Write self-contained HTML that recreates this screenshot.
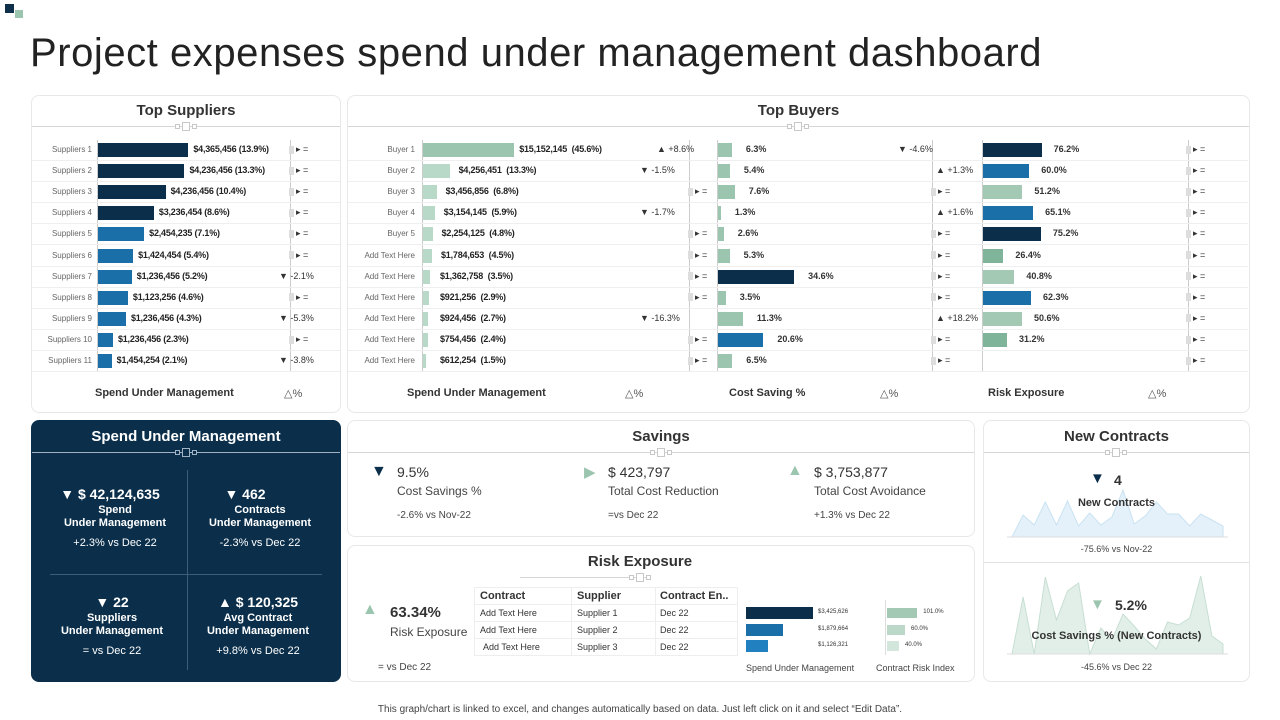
<!DOCTYPE html>
<html><head><meta charset="utf-8">
<style>
*{margin:0;padding:0;box-sizing:border-box}
body{width:1280px;height:720px;background:#fff;font-family:"Liberation Sans",sans-serif;position:relative;overflow:hidden;color:#333}
.a{position:absolute;white-space:nowrap}
.panel{position:absolute;border:1px solid #e8e8e8;border-radius:8px;background:#fff}
.pt{position:absolute;font-weight:bold;font-size:15px;color:#333;text-align:center}
.hl{position:absolute;height:1px;background:#d6d6d6}
.sq{display:inline-block;width:5px;height:8px;background:#ddd;vertical-align:middle;margin-right:2px}
.w{color:#fff;text-align:center}
</style></head><body>
<div class="a" style="left:5px;top:4px;width:9px;height:9px;background:#0d2f4a"></div>
<div class="a" style="left:15px;top:10px;width:8px;height:8px;background:#9cc5b0"></div>
<div class="a" style="left:30px;top:31px;font-size:40px;color:#222;letter-spacing:0.55px">Project expenses spend under management dashboard</div>

<!-- Top suppliers -->
<div class="panel" style="left:31px;top:95px;width:310px;height:318px"></div>
<div class="pt" style="left:31px;top:102px;width:310px">Top Suppliers</div>
<div class="hl" style="left:32px;top:126px;width:308px"></div>
<div style="position:absolute;width:1px;background:#ccc;left:97px;top:140px;height:232px"></div>
<div style="position:absolute;width:1px;background:#ccc;left:290px;top:140px;height:232px"></div>
<div class="a" style="left:95px;top:387px;font-size:11px;font-weight:bold;color:#333">Spend Under Management</div>
<div class="a" style="left:284px;top:387px;font-size:11px;color:#555">△%</div>
<div id="sup"></div>

<!-- Top buyers -->
<div class="panel" style="left:347px;top:95px;width:903px;height:318px"></div>
<div class="pt" style="left:347px;top:102px;width:903px">Top Buyers</div>
<div class="hl" style="left:348px;top:126px;width:901px"></div>
<div style="position:absolute;width:1px;background:#ccc;left:422px;top:140px;height:232px"></div>
<div style="position:absolute;width:1px;background:#ccc;left:689px;top:140px;height:232px"></div>
<div style="position:absolute;width:1px;background:#ccc;left:717px;top:140px;height:232px"></div>
<div style="position:absolute;width:1px;background:#ccc;left:932px;top:140px;height:232px"></div>
<div style="position:absolute;width:1px;background:#ccc;left:982px;top:140px;height:232px"></div>
<div style="position:absolute;width:1px;background:#ccc;left:1188px;top:140px;height:232px"></div>
<div class="a" style="left:407px;top:387px;font-size:11px;font-weight:bold">Spend Under Management</div>
<div class="a" style="left:625px;top:387px;font-size:11px;color:#555">△%</div>
<div class="a" style="left:729px;top:387px;font-size:11px;font-weight:bold">Cost Saving %</div>
<div class="a" style="left:880px;top:387px;font-size:11px;color:#555">△%</div>
<div class="a" style="left:988px;top:387px;font-size:11px;font-weight:bold">Risk Exposure</div>
<div class="a" style="left:1148px;top:387px;font-size:11px;color:#555">△%</div>
<div id="buy"></div>

<!-- Spend Under Management dark -->
<div class="a" style="left:31px;top:420px;width:310px;height:262px;background:#0b2f4b;border-radius:8px"></div>
<div class="a w" style="left:31px;top:428px;width:310px;font-size:15px;font-weight:bold">Spend Under Management</div>
<div class="a" style="left:32px;top:452px;width:308px;height:1px;background:#9fb3c4"></div>
<div class="a" style="left:187px;top:470px;width:1px;height:200px;background:#3d5d78"></div>
<div class="a" style="left:50px;top:574px;width:272px;height:1px;background:#3d5d78"></div>
<div class="a w" style="left:40px;top:486px;width:140px;font-size:14px;font-weight:bold">▼ $ 42,124,635</div>
<div class="a w" style="left:40px;top:504px;width:150px;font-size:11px;font-weight:bold;line-height:13px">Spend<br>Under Management</div>
<div class="a w" style="left:40px;top:537px;width:150px;font-size:11px">+2.3% vs Dec 22</div>
<div class="a w" style="left:185px;top:486px;width:150px;font-size:14px;font-weight:bold;padding-right:30px">▼ 462</div>
<div class="a w" style="left:185px;top:504px;width:150px;font-size:11px;font-weight:bold;line-height:13px">Contracts<br>Under Management</div>
<div class="a w" style="left:185px;top:537px;width:150px;font-size:11px">-2.3% vs Dec 22</div>
<div class="a w" style="left:37px;top:594px;width:150px;font-size:14px;font-weight:bold">▼ 22</div>
<div class="a w" style="left:37px;top:612px;width:150px;font-size:11px;font-weight:bold;line-height:13px">Suppliers<br>Under Management</div>
<div class="a w" style="left:37px;top:645px;width:150px;font-size:11px">= vs Dec 22</div>
<div class="a w" style="left:183px;top:594px;width:150px;font-size:14px;font-weight:bold">▲ $ 120,325</div>
<div class="a w" style="left:183px;top:612px;width:150px;font-size:11px;font-weight:bold;line-height:13px">Avg Contract<br>Under Management</div>
<div class="a w" style="left:183px;top:645px;width:150px;font-size:11px">+9.8% vs Dec 22</div>

<!-- Savings -->
<div class="panel" style="left:347px;top:420px;width:628px;height:117px"></div>
<div class="pt" style="left:347px;top:428px;width:628px">Savings</div>
<div class="hl" style="left:348px;top:452px;width:626px"></div>
<div class="a" style="left:371px;top:463px;font-size:16px;color:#0b2f4b">▼</div>
<div class="a" style="left:397px;top:464px;font-size:14px;color:#333">9.5%</div>
<div class="a" style="left:397px;top:484px;font-size:12px;color:#444">Cost Savings %</div>
<div class="a" style="left:397px;top:510px;font-size:10px;color:#444">-2.6% vs Nov-22</div>
<div class="a" style="left:584px;top:463px;font-size:15px;color:#9cc5b0">▶</div>
<div class="a" style="left:608px;top:464px;font-size:14px">$ 423,797</div>
<div class="a" style="left:608px;top:484px;font-size:12px;color:#444">Total Cost Reduction</div>
<div class="a" style="left:608px;top:510px;font-size:10px;color:#444">=vs Dec 22</div>
<div class="a" style="left:787px;top:462px;font-size:16px;color:#9cc5b0">▲</div>
<div class="a" style="left:814px;top:464px;font-size:14px">$ 3,753,877</div>
<div class="a" style="left:814px;top:484px;font-size:12px;color:#444">Total Cost Avoidance</div>
<div class="a" style="left:814px;top:510px;font-size:10px;color:#444">+1.3% vs Dec 22</div>

<!-- Risk exposure -->
<div class="panel" style="left:347px;top:545px;width:628px;height:137px"></div>
<div class="pt" style="left:347px;top:553px;width:586px">Risk Exposure</div>
<div class="hl" style="left:520px;top:577px;width:130px"></div>
<div class="a" style="left:362px;top:601px;font-size:16px;color:#9cc5b0">▲</div>
<div class="a" style="left:390px;top:604px;font-size:15px;font-weight:bold;color:#333">63.34%</div>
<div class="a" style="left:390px;top:625px;font-size:12px;color:#444">Risk Exposure</div>
<div class="a" style="left:378px;top:662px;font-size:10px;color:#444">= vs Dec 22</div>
<div class="a" style="left:474px;top:587px;width:264px;height:69px;border:1px solid #eee">
 <div class="a" style="left:5px;top:2px;font-size:11px;font-weight:bold">Contract</div>
 <div class="a" style="left:102px;top:2px;font-size:11px;font-weight:bold">Supplier</div>
 <div class="a" style="left:185px;top:2px;font-size:11px;font-weight:bold">Contract En..</div>
 <div class="a" style="left:96px;top:0;width:1px;height:68px;background:#eee"></div>
 <div class="a" style="left:180px;top:0;width:1px;height:68px;background:#eee"></div>
 <div class="a" style="left:0;top:16px;width:262px;height:1px;background:#eee"></div>
 <div class="a" style="left:0;top:33px;width:262px;height:1px;background:#eee"></div>
 <div class="a" style="left:0;top:50px;width:262px;height:1px;background:#eee"></div>
 <div class="a" style="left:5px;top:20px;font-size:9px">Add Text Here</div><div class="a" style="left:102px;top:20px;font-size:9px">Supplier 1</div><div class="a" style="left:185px;top:20px;font-size:9px">Dec 22</div>
 <div class="a" style="left:5px;top:37px;font-size:9px">Add Text Here</div><div class="a" style="left:102px;top:37px;font-size:9px">Supplier 2</div><div class="a" style="left:185px;top:37px;font-size:9px">Dec 22</div>
 <div class="a" style="left:8px;top:54px;font-size:9px">Add Text Here</div><div class="a" style="left:102px;top:54px;font-size:9px">Supplier 3</div><div class="a" style="left:185px;top:54px;font-size:9px">Dec 22</div>
</div>
<div style="position:absolute;width:1px;left:885px;top:600px;height:55px;background:#ddd"></div>
<div id="risk"></div>
<div class="a" style="left:746px;top:663px;font-size:9px;color:#444">Spend Under Management</div>
<div class="a" style="left:876px;top:663px;font-size:9px;color:#444">Contract Risk Index</div>

<!-- New contracts -->
<div class="panel" style="left:983px;top:420px;width:267px;height:262px"></div>
<div class="pt" style="left:983px;top:428px;width:267px">New Contracts</div>
<div class="hl" style="left:984px;top:452px;width:265px"></div>
<div class="hl" style="left:984px;top:562px;width:265px;background:#e3e3e3"></div>
<svg class="a" style="left:0;top:0" width="1280" height="720" id="spark"></svg>
<div class="a" style="left:1090px;top:470px;font-size:15px;color:#0b2f4b">▼</div>
<div class="a" style="left:1114px;top:472px;font-size:14px;font-weight:bold">4</div>
<div class="a" style="left:983px;top:497px;width:267px;text-align:center;font-size:11px;font-weight:bold">New Contracts</div>
<div class="a" style="left:983px;top:544px;width:267px;text-align:center;font-size:9px;color:#444">-75.6% vs Nov-22</div>
<div class="a" style="left:1090px;top:596px;font-size:15px;color:#9cc5b0">▼</div>
<div class="a" style="left:1115px;top:597px;font-size:14px;font-weight:bold">5.2%</div>
<div class="a" style="left:983px;top:630px;width:267px;text-align:center;font-size:11px;font-weight:bold">Cost Savings % (New Contracts)</div>
<div class="a" style="left:983px;top:662px;width:267px;text-align:center;font-size:9px;color:#444">-45.6% vs Dec 22</div>

<div class="a" style="left:0;top:704px;width:1280px;text-align:center;font-size:10px;color:#444">This graph/chart is linked to excel, and changes automatically based on data. Just left click on it and select “Edit Data”.</div>

<script>
const supNames=["Suppliers 1","Suppliers 2","Suppliers 3","Suppliers 4","Suppliers 5","Suppliers 6","Suppliers 7","Suppliers 8","Suppliers 9","Suppliers 10","Suppliers 11"];
const supValues=["$4,365,456","$4,236,456","$4,236,456","$3,236,454","$2,454,235","$1,424,454","$1,236,456","$1,123,256","$1,236,456","$1,236,456","$1,454,254"];
const supPct=[13.9,13.3,10.4,8.6,7.1,5.4,5.2,4.6,4.3,2.3,2.1];
const supDelta=[0,0,0,0,0,0,-2.1,0,-5.3,0,-3.8];
const buyNames=["Buyer 1","Buyer 2","Buyer 3","Buyer 4","Buyer 5","Add Text Here","Add Text Here","Add Text Here","Add Text Here","Add Text Here","Add Text Here"];
const buyValues=["$15,152,145","$4,256,451","$3,456,856","$3,154,145","$2,254,125","$1,784,653","$1,362,758","$921,256","$924,456","$754,456","$612,254"];
const buyPct=[45.6,13.3,6.8,5.9,4.8,4.5,3.5,2.9,2.7,2.4,1.5];
const buyDelta=[8.6,-1.5,0,-1.7,0,0,0,0,-16.3,0,0];
const costSaving=[6.3,5.4,7.6,1.3,2.6,5.3,34.6,3.5,11.3,20.6,6.5];
const costDelta=[-4.6,1.3,0,1.6,0,0,0,0,18.2,0,0];
const riskExp=[76.2,60.0,51.2,65.1,75.2,26.4,40.8,62.3,50.6,31.2,null];
const riskDelta=[0,0,0,0,0,0,0,0,0,-3.0,0];
const riskSpend=[3425626,1879664,1126321];
const riskSpendLbl=["$3,425,626","$1,879,664","$1,126,321"];
const riskIndex=[101,60,40];
const ncSeries=[0,22,12,35,12,36,11,24,12,20,47,13,21,35,23,23,11,23,17,11];
const csSeries=[0,57,0,77,34,63,71,0,26,14,40,28,15,5,32,29,36,78,18,10];

const rowY=i=>150+i*21.1;
function el(parent,css,html){const d=document.createElement('div');d.className='a';d.style.cssText=css;if(html!==undefined)d.innerHTML=html;parent.appendChild(d);return d;}
[[186,126,'#c8c8c8','#fff'],[798,126,'#c8c8c8','#fff'],[186,452,'#9fb3c4','#0b2f4b'],[661,452,'#c8c8c8','#fff'],[640,577,'#c8c8c8','#fff'],[1116,452,'#c8c8c8','#fff']].forEach(k=>{
  const g=el(document.body,`left:${k[0]-11}px;top:${k[1]-4}px;width:22px;height:9px`);
  
  
  el(g,`left:0;top:2px;width:5px;height:5px;border:1px solid ${k[2]};background:${k[3]}`);
  el(g,`left:7px;top:0;width:8px;height:9px;border:1px solid ${k[2]};background:${k[3]}`);
  el(g,`left:17px;top:2px;width:5px;height:5px;border:1px solid ${k[2]};background:${k[3]}`);
});
const sup=document.getElementById('sup');
const supX=p=>p*6.5;
supNames.forEach((n,i)=>{
  const y=rowY(i);
  el(sup,`left:32px;top:${y+10}px;width:308px;height:1px;background:#efefef`);
  const l=el(sup,`left:32px;top:${y-5}px;width:60px;font-size:8px;color:#666;text-align:right`,n);
  
  const b=el(sup,`left:98px;top:${y-7}px;width:${supX(supPct[i])}px;height:14px;background:${i<4?'#0b2f4b':'#1a6fa8'}`);
  
  
  const t=el(sup,`left:${103+supX(supPct[i])}px;top:${y-6}px;font-size:9px;color:#222;font-weight:bold;letter-spacing:-0.2px`,supValues[i]+' ('+supPct[i].toFixed(1)+'%)');
  
  const d=supDelta[i];
  const ind=el(sup,d===0?`left:289px;top:${y-6}px;font-size:9px`:`left:279px;top:${y-6}px;font-size:9px`,d===0?`<span class="sq"></span>▸ =`:'▼ '+d.toFixed(1)+'%');
  
});
const buy=document.getElementById('buy');
const bX=p=>p*2, cX=p=>p*2.2, rX=p=>p*0.77;
buyNames.forEach((n,i)=>{
  const y=rowY(i);
  el(buy,`left:348px;top:${y+10}px;width:900px;height:1px;background:#efefef`);
  const l=el(buy,`left:348px;top:${y-5}px;width:67px;font-size:8px;color:#666;text-align:right`,n);
  
  const b=el(buy,`left:423px;top:${y-7}px;width:${bX(buyPct[i])}px;height:14px;background:${i==0?'#9cc5b0':'#b9d9c8'}`);
  
  
  const t=el(buy,`left:${428+Math.max(bX(buyPct[i]),8)+(i==0?0:4)}px;top:${y-6}px;font-size:9px;color:#222;font-weight:bold;letter-spacing:-0.2px`,buyValues[i]+'&nbsp;&nbsp;('+buyPct[i].toFixed(1)+'%)');
  
  const d=buyDelta[i];
  const di=el(buy,d===0?`left:688px;top:${y-6}px;font-size:9px`:`left:${d>0?657:640}px;top:${y-6}px;font-size:9px`,d===0?`<span class="sq"></span>▸ =`:(d>0?'▲ +':'▼ -')+Math.abs(d).toFixed(1)+'%');
  
  const cc=costSaving[i]>30?'#0b2f4b':costSaving[i]>15?'#1a6fa8':'#9cc5b0';
  const cb=el(buy,`left:718px;top:${y-7}px;width:${cX(costSaving[i])}px;height:14px;background:${cc}`);
  
  
  const ct=el(buy,`left:${732+cX(costSaving[i])}px;top:${y-6}px;font-size:9px;font-weight:bold;color:#333`,costSaving[i].toFixed(1)+'%');
  
  const cd=costDelta[i];
  const cdi=el(buy,cd===0?`left:931px;top:${y-6}px;font-size:9px`:`left:${cd>0?936:898}px;top:${y-6}px;font-size:9px`,cd===0?`<span class="sq"></span>▸ =`:(cd>0?'▲ +':'▼ -')+Math.abs(cd).toFixed(1)+'%');
  
  if(riskExp[i]!==null){
    const v=riskExp[i];
    const rc=v>70?'#0b2f4b':v>58?'#1a6fa8':v>35?'#a3c9b5':'#7fb49a';
    const rb=el(buy,`left:983px;top:${y-7}px;width:${rX(v)}px;height:14px;background:${rc}`);
    
    
    const rt=el(buy,`left:${995+rX(v)}px;top:${y-6}px;font-size:9px;font-weight:bold;color:#333`,v.toFixed(1)+'%');
    
  }
  const rdi=el(buy,`left:1186px;top:${y-6}px;font-size:9px`,`<span class="sq"></span>▸ =`);
  
});
const risk=document.getElementById('risk');
const sX=v=>v/3425626*67, iX=v=>v*0.3;
const rcol=['#0b2f4b','#1a6fa8','#2080c0'];
const icol=['#a3c9b5','#bcd8c9','#d3e6dc'];
riskSpend.forEach((v,i)=>{
  const y=613+i*16.5;
  const b=el(risk,`left:746px;top:${y-6}px;width:${sX(v)}px;height:12px;background:${rcol[i]}`);
  
  
  el(risk,`left:818px;top:${y-4}px;font-size:6px;color:#333`,riskSpendLbl[i]);
  const c=el(risk,`left:887px;top:${y-5}px;width:${iX(riskIndex[i])}px;height:10px;background:${icol[i]}`);
  
  
  el(risk,`left:${iX(riskIndex[i])+893}px;top:${y-4}px;font-size:6px;color:#333`,riskIndex[i].toFixed(1)+'%');
});
const svg=document.getElementById('spark');const NS='http://www.w3.org/2000/svg';
function area(series,x0,x1,base,scale,fill,stroke,name){
  const n=series.length,px=i=>x0+(x1-x0)*i/(n-1),py=v=>base-v*scale;
  let d=`M${px(0)},${base}`;series.forEach((v,i)=>d+=` L${px(i)},${py(v)}`);d+=` L${px(n-1)},${base} Z`;
  const p=document.createElementNS(NS,'path');p.setAttribute('d',d);p.setAttribute('fill',fill);p.setAttribute('stroke',stroke);p.setAttribute('stroke-width','1');
  
  
  svg.appendChild(p);
  const l=document.createElementNS(NS,'line');l.setAttribute('x1',x0-5);l.setAttribute('x2',x1+5);l.setAttribute('y1',base);l.setAttribute('y2',base);l.setAttribute('stroke','#ddd');svg.appendChild(l);
}
area(ncSeries,1012,1223,537,1.0,'#e4f1fa','#c9e2f2','new-contracts-area');
area(csSeries,1012,1223,654,1.0,'#e2efe8','#c7dfd2','cost-savings-area');
</script>
</body></html>
